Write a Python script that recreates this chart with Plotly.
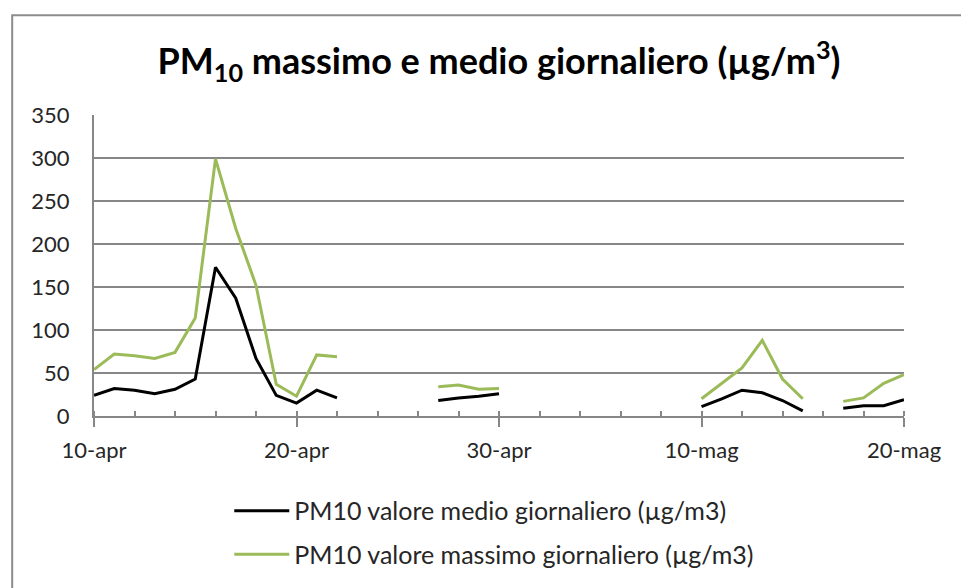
import plotly.graph_objects as go
import pandas as pd

# days from 10 Apr to 20 May
dates = pd.date_range("2013-04-10", "2013-05-20", freq="D").strftime("%Y-%m-%d").tolist()

pm10_medio = [24, 32, 30, 26, 31, 43, 173, 137, 67, 24, 15, 30, 21,
              None, None, None, None,
              18, 21, 23, 26,
              None, None, None, None, None, None, None, None, None,
              11, 20, 30, 27, 18, 6,
              None,
              9, 12, 12, 19]

pm10_massimo = [54, 72, 70, 67, 74, 114, 299, 218, 152, 37, 23, 71, 69,
                None, None, None, None,
                34, 36, 31, 32,
                None, None, None, None, None, None, None, None, None,
                20, 38, 56, 88, 43, 20,
                None,
                17, 21, 38, 48]

tick_dates = ["2013-04-10", "2013-04-20", "2013-04-30", "2013-05-10", "2013-05-20"]
tick_labels = ["10-apr", "20-apr", "30-apr", "10-mag", "20-mag"]

FONT = "Lato"
GRID = "#878787"

fig = go.Figure()
fig.add_trace(go.Scatter(
    x=dates, y=pm10_medio, mode="lines",
    name="PM10 valore medio giornaliero (µg/m3)",
    line=dict(color="#000000", width=3),
    connectgaps=False, legendgroup="a"))
fig.add_trace(go.Scatter(
    x=dates, y=pm10_massimo, mode="lines",
    name="PM10 valore massimo giornaliero (µg/m3)",
    line=dict(color="#9BBB59", width=3),
    connectgaps=False, legendgroup="b"))

# outer chart border (cropped at right and bottom)
fig.add_shape(type="rect", xref="paper", yref="paper",
              x0=-0.101, x1=1.3, y0=-0.9, y1=1.331,
              line=dict(color="#8c8c8c", width=2), layer="below")

fig.update_layout(
    width=961, height=588,
    margin=dict(l=94, r=57, t=115, b=171),
    paper_bgcolor="white", plot_bgcolor="white",
    font=dict(family=FONT, size=22, color="#262626"),
    title=dict(
        text="<b>PM<sub>10</sub> massimo e medio giornaliero (µg/m<sup>3</sup>)</b>",
        xref="paper", x=0.5, xanchor="center", y=0.895, yanchor="middle",
        font=dict(family=FONT, size=36, color="#000000")),
    showlegend=True,
    legend=dict(x=0.167, xanchor="left", y=-0.235, yanchor="top",
                orientation="v", tracegroupgap=8, itemwidth=55,
                font=dict(family=FONT, size=25, color="#262626")),
    xaxis=dict(
        type="date",
        range=["2013-04-10", "2013-05-20"],
        tickvals=tick_dates, ticktext=tick_labels,
        ticks="outside", ticklen=9, tickwidth=2, tickcolor=GRID,
        ticklabelstandoff=5,
        minor=dict(dtick=2 * 86400000, tick0="2013-04-10",
                   ticks="inside", ticklen=5, tickwidth=2, tickcolor=GRID,
                   showgrid=False),
        showgrid=False, showline=True, linecolor=GRID, linewidth=2,
        zeroline=False),
    yaxis=dict(
        range=[0, 350], dtick=50,
        ticks="", showgrid=True, gridcolor=GRID, gridwidth=2,
        showline=True, linecolor=GRID, linewidth=2,
        zeroline=False, ticklabelstandoff=18),
)

# drop the default page margin so the figure sits at the window corner
fig.write_html("out.html", config={"displayModeBar": False},
               post_script="document.body.style.margin='0px';")
